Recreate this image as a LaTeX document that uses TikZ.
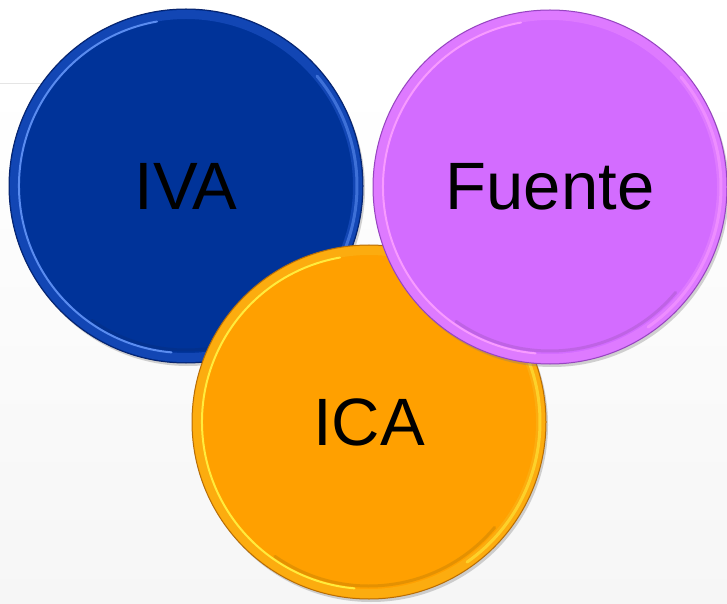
\documentclass[tikz,border=0pt]{standalone}
\usepackage{fontspec}
\setmainfont{Liberation Sans}
\usetikzlibrary{positioning, shadows}

\definecolor{ivablue}{RGB}{0,51,153}
\definecolor{ivaedge}{RGB}{8,36,110}
\definecolor{ivarim}{RGB}{18,70,180}
\definecolor{ivalight}{RGB}{90,140,240}
\definecolor{fuentevio}{RGB}{211,108,255}
\definecolor{fuenteedge}{RGB}{150,70,190}
\definecolor{fuenterim}{RGB}{222,122,255}
\definecolor{fuentelight}{RGB}{248,155,255}
\definecolor{icaorange}{RGB}{255,160,0}
\definecolor{icaedge}{RGB}{180,110,10}
\definecolor{icarim}{RGB}{252,172,15}
\definecolor{icalight}{RGB}{255,235,60}

\tikzset{
  disc/.style={circle, minimum size=354pt, inner sep=0pt, line width=1pt,
    font=\fontsize{67}{80}\selectfont,
    drop shadow={opacity=0.35, shadow xshift=2pt, shadow yshift=-3pt}},
}
\newcommand{\discrim}[3]{%
  \draw[#2, line width=9pt] (#1.center) circle (171.5);
  \draw[#3, line width=2pt, line cap=round] ([shift={(100:167)}]#1.center) arc (100:265:167);
  \draw[#3, line width=3pt, opacity=0.6, line cap=round] ([shift={(-55:171)}]#1.center) arc (-55:40:171);
  \draw[#2!60!black, line width=3pt, opacity=0.25, line cap=round] ([shift={(235:164)}]#1.center) arc (235:320:164);
}

\begin{document}
\begin{tikzpicture}[x=1pt, y=1pt]
  \useasboundingbox (0,0) rectangle (727,603);
  \fill[white] (0,0) rectangle (727,603);
  \shade[top color=white, bottom color=gray!7] (0,0) rectangle (727,520);
  \draw[gray!20] (0,520) -- (60,520);

  \node[disc, fill=ivablue, draw=ivaedge] (iva) at (186,417) {IVA};
  \discrim{iva}{ivarim}{ivalight}
  \node[disc, fill=icaorange, draw=icaedge] (ica) at (369,181) {ICA};
  \discrim{ica}{icarim}{icalight}
  \node[disc, fill=fuentevio, draw=fuenteedge] (fuente) at (550,416) {Fuente};
  \discrim{fuente}{fuenterim}{fuentelight}
\end{tikzpicture}
\end{document}
